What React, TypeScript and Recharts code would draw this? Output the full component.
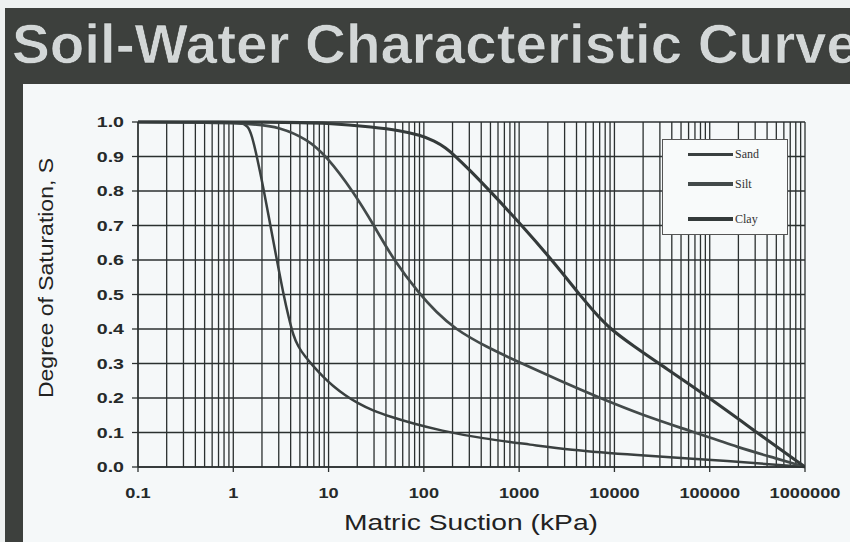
import React from "react";
import {
  LineChart,
  Line,
  XAxis,
  YAxis,
  CartesianGrid,
} from "recharts";

// matric suction (kPa) and degree of saturation
const sandSuction = [0.1, 1, 1.15, 1.43, 1.57, 1.77, 2.1, 2.45, 2.87, 3.36, 3.84, 4.28, 4.77, 5.65, 7.03, 8.73, 11.1, 14.9, 19.9, 29.3, 44, 76.9, 148, 400, 1400, 3200, 15000, 170000, 1000000];
const sandSat = [1, 1, 1, 0.99, 0.96, 0.9, 0.8, 0.7, 0.6, 0.5, 0.43, 0.38, 0.35, 0.32, 0.29, 0.262, 0.235, 0.208, 0.186, 0.163, 0.146, 0.126, 0.106, 0.083, 0.064, 0.05, 0.035, 0.017, 0];

const siltSuction = [0.1, 1.5, 3.1, 6, 9.6, 18, 30, 48, 91, 134, 212, 437, 1070, 2680, 7050, 19900, 62000, 207000, 500000, 1000000];
const siltSat = [1, 0.998, 0.985, 0.95, 0.9, 0.8, 0.7, 0.6, 0.5, 0.45, 0.4, 0.35, 0.3, 0.25, 0.2, 0.15, 0.105, 0.055, 0.025, 0];

const claySuction = [0.1, 3, 10, 30, 56, 91, 130, 170, 212, 300, 494, 1070, 2210, 4300, 6100, 9000, 16000, 29300, 100000, 313000, 1000000];
const claySat = [1, 1, 0.997, 0.985, 0.975, 0.962, 0.945, 0.925, 0.902, 0.862, 0.8, 0.7, 0.6, 0.5, 0.45, 0.4, 0.35, 0.3, 0.2, 0.1, 0];

const decadeTicks = [0.1, 1, 10, 100, 1000, 10000, 100000, 1000000];
const decadeLabels = ["0.1", "1", "10", "100", "1000", "10000", "100000", "1000000"];
const satTicks = [0, 0.1, 0.2, 0.3, 0.4, 0.5, 0.6, 0.7, 0.8, 0.9, 1.0];

const toPoints = (xs: number[], ys: number[]) => xs.map((x, i) => ({ x, s: ys[i] }));

const series = [
  { name: "Sand", data: toPoints(sandSuction, sandSat), color: "#3a4040", width: 2.5 },
  { name: "Silt", data: toPoints(siltSuction, siltSat), color: "#434a4a", width: 2.7 },
  { name: "Clay", data: toPoints(claySuction, claySat), color: "#343a3a", width: 3.1 },
];

// log grid: every 1..9 x 10^k between the decades
const minorTicks: number[] = [];
decadeTicks.slice(0, -1).forEach((d) => {
  for (let m = 1; m < 10; m++) minorTicks.push(Number((m * d).toPrecision(2)));
});
minorTicks.push(1000000);

const FONT = "'Liberation Sans', Arial, sans-serif";
const INK = "#2b3030";

const XTick = (props: any) => {
  const { x, y, payload } = props;
  const idx = decadeTicks.indexOf(payload.value);
  if (idx < 0) return null;
  return (
    <g>
      <line x1={x} x2={x} y1={y} y2={y + 5} stroke={INK} strokeWidth={1.3} />
      <g transform={`translate(${x},${y + 31}) scale(1.3,1)`}>
        <text textAnchor="middle" fontFamily={FONT} fontWeight="bold" fontSize={14} fill="#262a2a">
          {decadeLabels[idx]}
        </text>
      </g>
    </g>
  );
};

const YTick = (props: any) => {
  const { x, y, payload } = props;
  return (
    <g>
      <line x1={x - 6} x2={x} y1={y} y2={y} stroke={INK} strokeWidth={1.3} />
      <g transform={`translate(${x - 14},${y + 5}) scale(1.4,1)`}>
        <text textAnchor="end" fontFamily={FONT} fontWeight="bold" fontSize={14} fill="#262a2a">
          {payload.value.toFixed(1)}
        </text>
      </g>
    </g>
  );
};

export default function App() {
  return (
    <div style={{ position: "absolute", left: 0, top: 0, width: 850, height: 542, background: "#eef1f1", overflow: "hidden" }}>
      <div style={{ position: "absolute", left: 5, top: 8, width: 845, height: 534, background: "#3d403d" }} />
      <div style={{ position: "absolute", left: 23, top: 84, width: 827, height: 458, background: "#f5f8f9" }} />

      <div style={{ position: "absolute", left: 0, top: 0 }}>
        <LineChart width={850} height={542} margin={{ top: 122, right: 45, bottom: 35, left: 78 }}>
          <CartesianGrid stroke={INK} strokeWidth={1.3} />
          <XAxis
            dataKey="x"
            type="number"
            scale="log"
            domain={[0.1, 1000000]}
            ticks={minorTicks}
            interval={0}
            tick={<XTick />}
            tickLine={false}
            tickSize={0}
            tickMargin={0}
            axisLine={{ stroke: INK, strokeWidth: 1.3 }}
            height={40}
            allowDataOverflow
          />
          <YAxis
            type="number"
            domain={[0, 1]}
            ticks={satTicks}
            interval={0}
            tick={<YTick />}
            tickLine={false}
            tickSize={0}
            tickMargin={0}
            axisLine={{ stroke: INK, strokeWidth: 1.3 }}
            width={60}
          />
          {series.map((s) => (
            <Line
              key={s.name}
              data={s.data}
              dataKey="s"
              name={s.name}
              type="basis"
              stroke={s.color}
              strokeWidth={s.width}
              dot={false}
              isAnimationActive={false}
            />
          ))}
        </LineChart>
      </div>

      <div
        style={{
          position: "absolute",
          left: 662,
          top: 139,
          width: 126,
          height: 96,
          background: "#f8fafa",
          border: "1px solid #555",
          boxSizing: "border-box",
        }}
      >
        {series.map((s, i) => (
          <div
            key={s.name}
            style={{
              position: "absolute",
              left: 25,
              top: [7, 37, 72][i],
              display: "flex",
              alignItems: "center",
              fontFamily: "'Liberation Serif', 'Times New Roman', serif",
              fontSize: 12,
              color: "#333",
              height: 14,
            }}
          >
            <span style={{ display: "inline-block", width: 45, height: s.width + 0.5, background: s.color, marginRight: 2 }} />
            {s.name}
          </div>
        ))}
      </div>

      <svg width={850} height={542} style={{ position: "absolute", left: 0, top: 0, pointerEvents: "none" }}>
        <text
          x={12}
          y={63}
          fontFamily={FONT}
          fontWeight="bold"
          fontSize={56}
          fill="#d3d7d7"
          stroke="#2a2d2a"
          strokeWidth={0.6}
          textLength={846}
          lengthAdjust="spacingAndGlyphs"
        >
          Soil-Water Characteristic Curve
        </text>
        <text x={344} y={530} fontFamily={FONT} fontSize={22} fill="#222" textLength={254} lengthAdjust="spacingAndGlyphs">
          Matric Suction (kPa)
        </text>
        <text
          transform="translate(53,398) rotate(-90)"
          fontFamily={FONT}
          fontSize={21}
          fill="#222"
          textLength={240}
          lengthAdjust="spacingAndGlyphs"
        >
          Degree of Saturation, S
        </text>
      </svg>
    </div>
  );
}
